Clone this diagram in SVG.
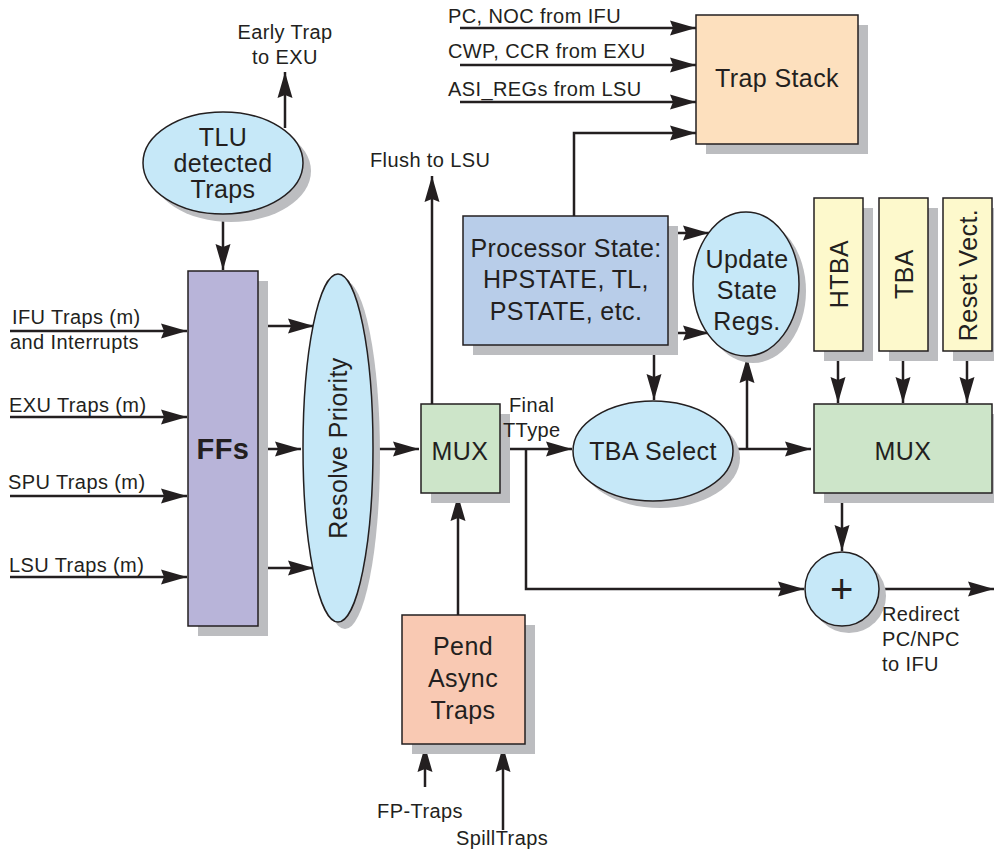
<svg xmlns="http://www.w3.org/2000/svg" width="994" height="851" viewBox="0 0 994 851">
<defs>
<marker id="arr" markerUnits="userSpaceOnUse" markerWidth="26" markerHeight="18" viewBox="0 0 26 18" refX="26" refY="9" orient="auto">
<path d="M0,1.5 L26,9 L0,16.5 L3,9 z" fill="#231f20"/>
</marker>
<style>
.sh{fill:#bcbdc0;stroke:none}
.nd{stroke:#231f20;stroke-width:1.5}
.blue{fill:#c6e8f8}
.green{fill:#cde5c9}
.yel{fill:#fdf9cc}
.t{font-family:"Liberation Sans",Arial,sans-serif;font-size:25px;fill:#231f20;text-anchor:middle;letter-spacing:0.4px}
.l{font-family:"Liberation Sans",Arial,sans-serif;font-size:20px;fill:#231f20;letter-spacing:0.4px}
.c{text-anchor:middle}
.w{fill:none;stroke:#231f20;stroke-width:2.5;marker-end:url(#arr)}
</style>
</defs>
<rect width="994" height="851" fill="#ffffff"/>

<g id="connectors">
<line class="w" x1="285" y1="128" x2="285" y2="72"/>
<line class="w" x1="223" y1="213" x2="223" y2="270"/>
<line class="w" x1="10" y1="331" x2="187" y2="331"/>
<line class="w" x1="10" y1="417" x2="187" y2="417"/>
<line class="w" x1="10" y1="496" x2="187" y2="496"/>
<line class="w" x1="10" y1="577" x2="187" y2="577"/>
<line class="w" x1="258" y1="326" x2="314" y2="326"/>
<line class="w" x1="258" y1="449" x2="301" y2="449"/>
<line class="w" x1="258" y1="568" x2="314" y2="568"/>
<line class="w" x1="373" y1="449" x2="419" y2="449"/>
<line class="w" x1="432" y1="404" x2="432" y2="176"/>
<line class="w" x1="458" y1="615" x2="458" y2="495"/>
<line class="w" x1="425" y1="787" x2="425" y2="746"/>
<line class="w" x1="503" y1="830" x2="503" y2="746"/>
<line class="w" x1="460" y1="28" x2="696" y2="28"/>
<line class="w" x1="460" y1="65" x2="696" y2="65"/>
<line class="w" x1="460" y1="102" x2="696" y2="102"/>
<polyline class="w" points="574,216 574,133 696,133"/>
<line class="w" x1="668" y1="233" x2="709" y2="233"/>
<line class="w" x1="668" y1="333" x2="709" y2="333"/>
<line class="w" x1="654" y1="345" x2="654" y2="400"/>
<line class="w" x1="500" y1="449" x2="572" y2="449"/>
<polyline class="w" points="526,449 526,589 804,589"/>
<line class="w" x1="733" y1="449" x2="811" y2="449"/>
<line class="w" x1="747" y1="449" x2="747" y2="357"/>
<line class="w" x1="838" y1="351" x2="838" y2="403"/>
<line class="w" x1="903" y1="351" x2="903" y2="403"/>
<line class="w" x1="967" y1="351" x2="967" y2="403"/>
<line class="w" x1="842" y1="493" x2="842" y2="551"/>
<line class="w" x1="879" y1="589" x2="994" y2="589"/>
</g>

<g id="tlu">
<ellipse class="sh" cx="231" cy="171" rx="80" ry="51"/>
<ellipse class="nd blue" cx="223" cy="163" rx="80" ry="51"/>
<text class="t" x="223" y="146">TLU</text>
<text class="t" x="223" y="172">detected</text>
<text class="t" x="223" y="198">Traps</text>
</g>

<g id="ffs">
<rect class="sh" x="198" y="281" width="70" height="355"/>
<rect class="nd" x="188" y="271" width="70" height="355" fill="#b8b4d9"/>
<text class="t" x="223" y="459" style="font-weight:bold;font-size:29px">FFs</text>
</g>

<g id="resolve">
<ellipse class="sh" cx="345" cy="455" rx="35" ry="174"/>
<ellipse class="nd blue" cx="338" cy="448" rx="35" ry="174"/>
<text class="t" transform="translate(338,448) rotate(-90)" x="0" y="9">Resolve Priority</text>
</g>

<g id="mux1">
<rect class="sh" x="431" y="414" width="79" height="89"/>
<rect class="nd green" x="421" y="404" width="79" height="89"/>
<text class="t" x="460" y="460">MUX</text>
</g>

<g id="pend">
<rect class="sh" x="412" y="625" width="123" height="129"/>
<rect class="nd" x="402" y="615" width="123" height="129" fill="#f9c9b3"/>
<text class="t" x="463" y="655">Pend</text>
<text class="t" x="463" y="687">Async</text>
<text class="t" x="463" y="719">Traps</text>
</g>

<g id="trapstack">
<rect class="sh" x="706" y="25" width="162" height="129"/>
<rect class="nd" x="696" y="15" width="162" height="129" fill="#fde0be"/>
<text class="t" x="777" y="87">Trap Stack</text>
</g>

<g id="procstate">
<rect class="sh" x="473" y="226" width="205" height="129"/>
<rect class="nd" x="463" y="216" width="205" height="129" fill="#b8cde9"/>
<text class="t" x="566" y="257">Processor State:</text>
<text class="t" x="566" y="288">HPSTATE, TL,</text>
<text class="t" x="566" y="320">PSTATE, etc.</text>
</g>

<g id="update">
<ellipse class="sh" cx="753" cy="291" rx="53" ry="72"/>
<ellipse class="nd blue" cx="746" cy="284" rx="53" ry="72"/>
<text class="t" x="747" y="268">Update</text>
<text class="t" x="747" y="299">State</text>
<text class="t" x="747" y="330">Regs.</text>
</g>

<g id="tbaselect">
<ellipse class="sh" cx="660" cy="458" rx="80" ry="50"/>
<ellipse class="nd blue" cx="653" cy="451" rx="80" ry="50"/>
<text class="t" x="653" y="460">TBA Select</text>
</g>

<g id="htba">
<rect class="sh" x="824" y="208" width="49" height="153"/>
<rect class="nd yel" x="814" y="198" width="49" height="153"/>
<text class="t" transform="translate(838.5,274) rotate(-90)" x="0" y="9">HTBA</text>
</g>

<g id="tba">
<rect class="sh" x="889" y="208" width="49" height="153"/>
<rect class="nd yel" x="879" y="198" width="49" height="153"/>
<text class="t" transform="translate(903.5,274) rotate(-90)" x="0" y="9">TBA</text>
</g>

<g id="resetvect">
<rect class="sh" x="953" y="208" width="49" height="153"/>
<rect class="nd yel" x="943" y="198" width="49" height="153"/>
<text class="t" transform="translate(967.5,275) rotate(-90)" x="0" y="9">Reset Vect.</text>
</g>

<g id="mux2">
<rect class="sh" x="824" y="414" width="178" height="89"/>
<rect class="nd green" x="814" y="404" width="178" height="89"/>
<text class="t" x="903" y="460">MUX</text>
</g>

<g id="adder">
<circle class="sh" cx="849" cy="596" r="37"/>
<circle class="nd blue" cx="842" cy="589" r="37"/>
<text class="t" x="842" y="603" style="font-size:40px">+</text>
</g>

<g id="labels">
<text class="l c" x="285" y="39">Early Trap</text>
<text class="l c" x="285" y="64">to EXU</text>
<text class="l" x="12" y="324">IFU Traps (m)</text>
<text class="l" x="10" y="349">and Interrupts</text>
<text class="l" x="9" y="412">EXU Traps (m)</text>
<text class="l" x="8" y="489">SPU Traps (m)</text>
<text class="l" x="9" y="572">LSU Traps (m)</text>
<text class="l" x="370" y="167">Flush to LSU</text>
<text class="l" x="448" y="23">PC, NOC from IFU</text>
<text class="l" x="448" y="58">CWP, CCR from EXU</text>
<text class="l" x="448" y="96">ASI_REGs from LSU</text>
<text class="l" x="509" y="412">Final</text>
<text class="l" x="503" y="437">TType</text>
<text class="l" x="882" y="621">Redirect</text>
<text class="l" x="882" y="646">PC/NPC</text>
<text class="l" x="882" y="671">to IFU</text>
<text class="l c" x="420" y="818">FP-Traps</text>
<text class="l c" x="502" y="845">SpillTraps</text>
</g>
</svg>
